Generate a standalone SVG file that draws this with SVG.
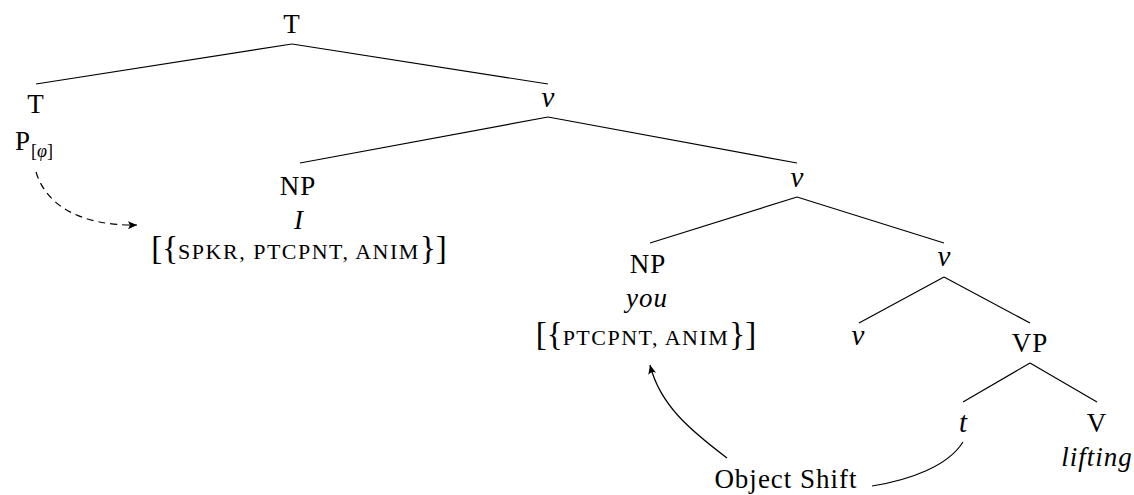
<svg xmlns="http://www.w3.org/2000/svg" width="1134" height="495" viewBox="0 0 1134 495">
<style>
text{font-family:"Liberation Serif","Times New Roman",serif;font-size:27px;fill:#000;text-anchor:middle;letter-spacing:1px}
.it{font-style:italic}
.m{font-style:italic;font-size:29px;letter-spacing:0}
.sc{font-size:22px;letter-spacing:1.5px}
.br{font-size:33px;letter-spacing:0}
.sub{font-size:18px;letter-spacing:0}
.e{stroke:#000;stroke-width:1.2;fill:none}
.dash{stroke-dasharray:7 5}
</style>
<defs>
<marker id="ah" viewBox="-10 -5 12 10" refX="0" refY="0" markerWidth="12" markerHeight="10" markerUnits="userSpaceOnUse" orient="auto">
<path d="M0,0 L-9,-4 Q-6,0 -9,4 Z" fill="#000"/>
</marker>
</defs>
<g id="connectors">
<line class="e" x1="292" y1="44" x2="36" y2="84"/>
<line class="e" x1="292" y1="44" x2="548" y2="84"/>
<line class="e" x1="548" y1="117" x2="300" y2="163"/>
<line class="e" x1="548" y1="117" x2="797" y2="163"/>
<line class="e" x1="797" y1="197" x2="650" y2="243"/>
<line class="e" x1="797" y1="197" x2="944" y2="243"/>
<line class="e" x1="944" y1="277" x2="859" y2="323"/>
<line class="e" x1="944" y1="277" x2="1030" y2="323"/>
<line class="e" x1="1030" y1="363" x2="963" y2="402"/>
<line class="e" x1="1030" y1="363" x2="1097" y2="402"/>
<path class="e dash" d="M36,172 C46,205 80,226 137,225" marker-end="url(#ah)"/>
<path class="e" d="M727,458 C690,430 660,405 650,365" marker-end="url(#ah)"/>
<path class="e" d="M872,486 C910,480 948,466 963,442"/>
</g>
<g id="T-root"><text x="292" y="33">T</text></g>
<g id="T-head"><text x="36" y="113">T</text><text x="34" y="150">P<tspan class="sub" dy="7">[</tspan><tspan class="sub it">φ</tspan><tspan class="sub">]</tspan></text></g>
<g id="v1"><text class="m" x="548" y="107">v</text></g>
<g id="NP-I"><text x="298" y="195">NP</text><text class="it" x="299" y="229">I</text><text x="299" y="259"><tspan class="br">[{</tspan><tspan class="sc">SPKR, PTCPNT, ANIM</tspan><tspan class="br">}]</tspan></text></g>
<g id="v2"><text class="m" x="797" y="187">v</text></g>
<g id="NP-you"><text x="648" y="273">NP</text><text class="it" x="647" y="307">you</text><text x="646" y="345"><tspan class="br">[{</tspan><tspan class="sc">PTCPNT, ANIM</tspan><tspan class="br">}]</tspan></text></g>
<g id="v3"><text class="m" x="944" y="266">v</text></g>
<g id="v4"><text class="m" x="858" y="345">v</text></g>
<g id="VP"><text x="1030" y="352">VP</text></g>
<g id="t"><text class="m" x="963" y="432">t</text></g>
<g id="V"><text x="1097" y="432">V</text><text class="it" x="1097" y="466">lifting</text></g>
<g id="object-shift"><text x="786" y="488">Object Shift</text></g>
</svg>
